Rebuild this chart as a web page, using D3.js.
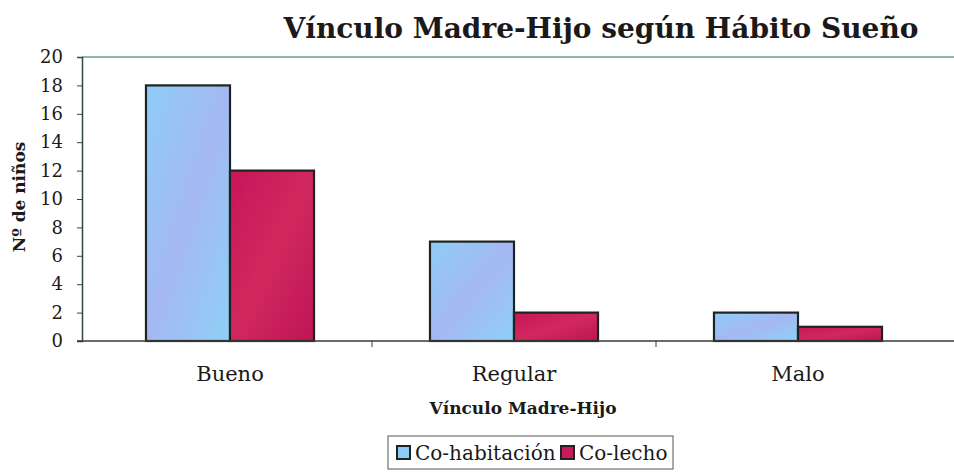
<!DOCTYPE html>
<html>
<head>
<meta charset="utf-8">
<script src="https://cdn.jsdelivr.net/npm/d3@7"></script>
<style>
  body { margin: 0; background: #fff; }
  svg text { font-family: "DejaVu Serif", serif; fill: #1a1a1a; }
</style>
</head>
<body>
<div id="chart"></div>
<script>
// Chart data
const categories = ["Bueno", "Regular", "Malo"];
const seriesNames = ["Co-habitación", "Co-lecho"];
const coHabitacion = [18, 7, 2];
const coLecho = [12, 2, 1];
const yTicks = [0, 2, 4, 6, 8, 10, 12, 14, 16, 18, 20];

const width = 954, height = 472;
const margin = { left: 82, top: 57 };
const serif = "'DejaVu Serif', serif";

const svg = d3.select("#chart").append("svg")
  .attr("width", width)
  .attr("height", height);

const defs = svg.append("defs");
const blueGrad = defs.append("linearGradient").attr("id", "blueFill")
  .attr("x1", 0).attr("y1", 0).attr("x2", 1).attr("y2", 1);
blueGrad.append("stop").attr("offset", "0%").attr("stop-color", "#8ecdf7");
blueGrad.append("stop").attr("offset", "50%").attr("stop-color", "#a4b8f2");
blueGrad.append("stop").attr("offset", "100%").attr("stop-color", "#8fd0f6");
const redGrad = defs.append("linearGradient").attr("id", "redFill")
  .attr("x1", 0).attr("y1", 0).attr("x2", 1).attr("y2", 1);
redGrad.append("stop").attr("offset", "0%").attr("stop-color", "#c8155a");
redGrad.append("stop").attr("offset", "50%").attr("stop-color", "#d0285e");
redGrad.append("stop").attr("offset", "100%").attr("stop-color", "#be1556");

const colors = ["url(#blueFill)", "url(#redFill)"];
const swatchColors = ["#8fc9f5", "#c81a5a"];

const x0 = d3.scaleBand()
  .domain(categories)
  .range([88, 940])
  .paddingInner(0)
  .paddingOuter(0);

const x1 = d3.scaleBand()
  .domain(seriesNames)
  .range([0, x0.bandwidth()])
  .paddingOuter(0.69)
  .paddingInner(0);

const y = d3.scaleLinear()
  .domain([0, 20])
  .range([341, 57]);

// Title
svg.append("text")
  .attr("x", 601)
  .attr("y", 38)
  .attr("text-anchor", "middle")
  .style("font-family", serif)
  .style("font-size", "28px")
  .style("font-weight", "bold")
  .text("Vínculo Madre-Hijo según Hábito Sueño");

// Top border of plot area
svg.append("line")
  .attr("x1", margin.left).attr("x2", width)
  .attr("y1", y(20)).attr("y2", y(20))
  .attr("stroke", "#8bb8a8").attr("stroke-width", 2);

// Bars
const groups = svg.append("g").selectAll("g")
  .data(categories)
  .enter().append("g")
  .attr("transform", d => `translate(${x0(d)},0)`);

groups.selectAll("rect")
  .data((d, i) => [coHabitacion[i], coLecho[i]].map((v, j) => ({ key: seriesNames[j], value: v, j })))
  .enter().append("rect")
  .attr("x", d => x1(d.key))
  .attr("y", d => y(d.value))
  .attr("width", x1.bandwidth())
  .attr("height", d => y(0) - y(d.value))
  .attr("fill", d => colors[d.j])
  .attr("stroke", "#1e2420")
  .attr("stroke-width", 2.2);

// Y axis
const yAxis = svg.append("g")
  .attr("transform", `translate(${margin.left},0)`)
  .call(d3.axisLeft(y).tickValues(yTicks).tickSize(5).tickPadding(14));
yAxis.select(".domain").attr("stroke", "#2c4a3c").attr("stroke-width", 1.5);
yAxis.selectAll(".tick line").attr("stroke", "#2c4a3c");
yAxis.selectAll(".tick text").style("font-size", "18px").style("font-family", serif).attr("fill", "#1a1a1a");

// X axis
const xAxis = svg.append("g")
  .attr("transform", `translate(0,${y(0)})`)
  .call(d3.axisBottom(x0).tickSize(0).tickPadding(25));
xAxis.select(".domain").remove();
svg.append("line")
  .attr("x1", margin.left - 5).attr("x2", width)
  .attr("y1", y(0)).attr("y2", y(0))
  .attr("stroke", "#3a3a3a").attr("stroke-width", 1.5);
// category separators
svg.append("g").selectAll("line")
  .data(categories.slice(1))
  .enter().append("line")
  .attr("x1", d => x0(d)).attr("x2", d => x0(d))
  .attr("y1", y(0)).attr("y2", y(0) + 6)
  .attr("stroke", "#3a3a3a");
xAxis.selectAll(".tick text").style("font-size", "21px").style("font-family", serif).attr("fill", "#1a1a1a");

// Axis titles
svg.append("text")
  .attr("x", 523).attr("y", 414)
  .attr("text-anchor", "middle")
  .style("font-family", serif)
  .style("font-size", "17px").style("font-weight", "bold")
  .text("Vínculo Madre-Hijo");

svg.append("text")
  .attr("transform", `translate(25,197) rotate(-90)`)
  .attr("text-anchor", "middle")
  .style("font-family", serif)
  .style("font-size", "17px").style("font-weight", "bold")
  .text("Nº de niños");

// Legend
const legend = svg.append("g");
legend.append("rect")
  .attr("x", 388).attr("y", 436)
  .attr("width", 285).attr("height", 33)
  .attr("fill", "#fff").attr("stroke", "#555").attr("stroke-width", 1);
const legendX = [397, 561];
seriesNames.forEach((name, i) => {
  legend.append("rect")
    .attr("x", legendX[i]).attr("y", 446)
    .attr("width", 13).attr("height", 13)
    .attr("fill", swatchColors[i]).attr("stroke", "#1e2420").attr("stroke-width", 2);
  legend.append("text")
    .attr("x", legendX[i] + 18).attr("y", 460)
    .style("font-family", serif)
    .style("font-size", "20px")
    .text(name);
});
</script>
</body>
</html>
